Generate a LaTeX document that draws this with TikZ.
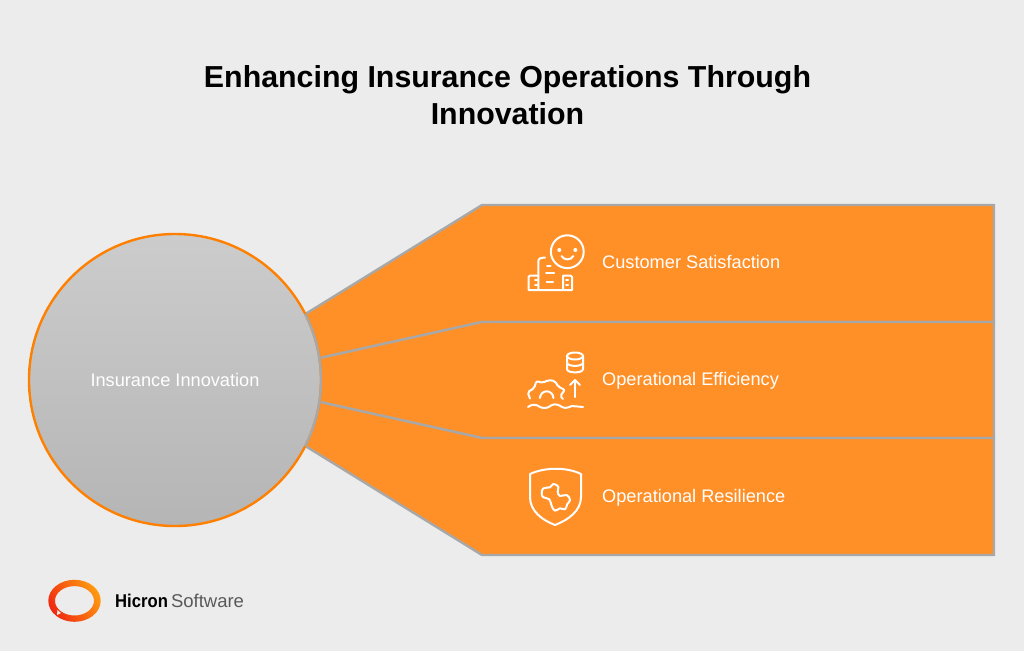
\documentclass[tikz,border=0pt]{standalone}
\usepackage{fontspec}
\setmainfont{Liberation Sans}
\definecolor{pagegray}{HTML}{ECECEC}
\definecolor{bandorange}{HTML}{FF8F27}
\definecolor{edgegray}{HTML}{A8A8A8}
\definecolor{ringorange}{HTML}{FF8000}
\definecolor{logored}{HTML}{F02A10}
\definecolor{logoorange}{HTML}{FF9A10}
\begin{document}
\begin{tikzpicture}[x=1pt, y=-1pt,
		band/.style = {draw=edgegray, fill=bandorange, line width=2.4pt, line join=miter},
		hub/.style = {circle, draw=ringorange, line width=2.4pt, minimum size=292pt, inner sep=0pt, top color=white!80!black, bottom color=white!71!black, text=white, font=\fontsize{18.2}{22}\selectfont},
		lbl/.style = {anchor=base west, inner sep=0pt, text=white, font=\fontsize{18.2}{22}\selectfont},
		ico/.style = {draw=white, line width=2pt, line cap=round, line join=round}]
	\fill[pagegray] (0,0) rectangle (1024,651);
	\useasboundingbox (0,0) rectangle (1024,651);
	% title
	\node[align=center, font=\bfseries\fontsize{30.35}{36.5}\selectfont] (title) at (507.5,95) {Enhancing Insurance Operations Through\\Innovation};
	% bands
	\draw[band] (175,380) -- (307,313) -- (482,205) -- (994,205) -- (994,322) -- (482,322) -- (320,358) -- cycle;
	\draw[band] (175,380) -- (320,358) -- (482,322) -- (994,322) -- (994,438) -- (482,438) -- (320,402) -- cycle;
	\draw[band] (175,380) -- (320,402) -- (482,438) -- (994,438) -- (994,555) -- (482,555) -- (307,447) -- cycle;
	% hub
	\node[hub] (hub) at (175,380) {Insurance Innovation};
	\draw[edgegray, line width=2.4pt] (305.1,313.7) arc[start angle=27, end angle=-27, radius=146pt];
	% labels
	\node[lbl] (cust) at (602,268) {Customer Satisfaction};
	\node[lbl] (oper) at (602,385) {Operational Efficiency};
	\node[lbl] (resi) at (602,502) {Operational Resilience};
	% icon 1
	\draw[ico] (567.3,251.7) circle (16.4pt);
	\fill[white] (559.3,250) circle (2pt) (575.3,250) circle (2pt);
	\draw[ico] (561.5,256) .. controls (564,260.5) and (571,260.5) .. (573.3,256);
	\draw[ico] (538.3,290) -- (538.3,262) .. controls (538.3,258.5) and (540,257.7) .. (543,257.7) -- (545,257.7);
	\draw[ico] (538.3,275.5) -- (530,275.5) -- (528.5,277) -- (528.5,290) -- (572,290) -- (572,277) -- (570.5,275.5) -- (563,275.5) -- (563,290);
	\draw[ico] (547,265.7) -- (550.7,265.7) (546,273.3) -- (554,273.3) (546.5,281.7) -- (553,281.7);
	\draw[ico] (535,280) -- (537,280) (535,285) -- (537,285);
	\draw[ico] (566,280) -- (568,280) (566,285) -- (568,285);
	% icon 2
	\draw[ico] (575,356) ellipse (8pt and 3.5pt);
	\draw[ico] (567,356) -- (567,369) .. controls (567,373.5) and (583,373.5) .. (583,369) -- (583,356);
	\draw[ico] (567,362.5) .. controls (567,367) and (583,367) .. (583,362.5);
	\draw[ico] (575,397) -- (575,380);
	\draw[ico] (570,385) -- (575,380) -- (580,385);
	\draw[ico, rounded corners=2pt] (530,398.5) -- (527.5,392) -- (534,388.5) -- (536.5,381) -- (543,383) -- (548,380) -- (555,381) -- (558,386.5) -- (565,390) -- (560,396) -- (563,399);
	\draw[ico] (540,398) arc[start angle=180, end angle=0, radius=6.7pt];
	\draw[ico] (528,407) .. controls (532,404) and (536,404) .. (540,407) .. controls (544,409) and (548,408) .. (551,405.5) .. controls (555,403) and (559,405) .. (562,407) .. controls (566,409) and (569,407) .. (572,406) -- (583,407);
	% icon 3
	\draw[ico] (530,474) .. controls (545,467) and (567,467) .. (581,474) -- (581,497) .. controls (581,511) and (568,520) .. (555,525) .. controls (542,520) and (530,511) .. (530,497) -- cycle;
	\draw[ico] plot[smooth cycle, tension=.7] coordinates {(543.3,488.3) (550,487.3) (553.3,484) (558.3,486.7) (557.7,491.7) (560,496) (566.7,495) (570,500) (567.3,504) (565,509.3) (560,508.3) (555,510.7) (551.7,506) (549.3,499.3) (543.3,497.3) (541.7,493.3)};
	% logo
	\shade[left color=logored, right color=logoorange, shading angle=120, even odd rule] (74.5,600.8) ellipse (26.2pt and 21pt) (74.5,600.8) ellipse (19.5pt and 14.7pt);
	\fill[pagegray] (57.5,610) -- (57,615) -- (61,613) -- cycle;
	\node[anchor=base west, inner sep=0pt, font=\fontsize{18.5}{22}\selectfont] (logo) at (115,607) {\scalebox{0.9}[1]{\textbf{Hicron}}\,\textcolor{black!65}{Software}};
\end{tikzpicture}
\end{document}
